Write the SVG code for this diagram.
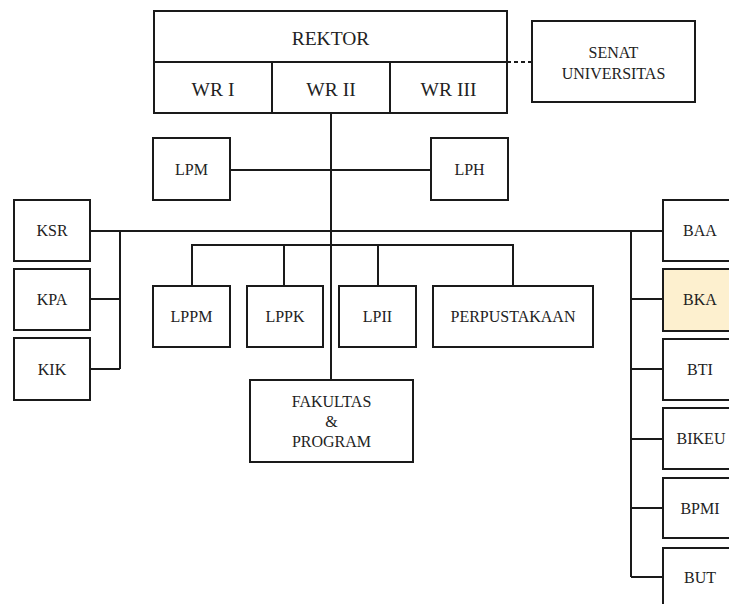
<svg xmlns="http://www.w3.org/2000/svg" width="729" height="604" viewBox="0 0 729 604" font-family="Liberation Serif, Times New Roman, serif">
<style>
.b{fill:#fff;stroke:#1a1a1a;stroke-width:2}
.y{fill:#fdf0cf}
text{font-family:"Liberation Serif",serif}
.t{font-size:16px;fill:#222;text-anchor:middle}
.h{font-size:19.5px}
.c{fill:none;stroke:#1a1a1a;stroke-width:2}
.d{fill:none;stroke:#1a1a1a;stroke-width:2;stroke-dasharray:4 3}
</style>
<rect width="729" height="604" fill="#fff"/>
<g id="connectors">
<line class="c" x1="331" y1="113" x2="331" y2="380"/>
<line class="c" x1="230" y1="170" x2="431" y2="170"/>
<line class="c" x1="90" y1="231" x2="663" y2="231"/>
<path class="c" d="M120 231V369M90 299H120M90 369H120"/>
<path class="c" d="M631 231V577M631 299H663M631 369H663M631 439H663M631 508H663M631 577H663"/>
<path class="c" d="M192 286V245H513V286M284 245V286M378 245V286"/>
<line class="d" x1="507" y1="62" x2="532" y2="62"/>
</g>
<g id="rektor">
<rect class="b" x="154" y="11" width="353" height="102"/>
<line class="c" x1="154" y1="62" x2="507" y2="62"/>
<text class="t h" x="330.5" y="45" font-family="Liberation Serif, serif">REKTOR</text>
</g>
<g id="wr1">
<rect class="b" x="154" y="62" width="118" height="51"/>
<text class="t h" x="213" y="96">WR I</text>
</g>
<g id="wr2">
<rect class="b" x="272" y="62" width="118" height="51"/>
<text class="t h" x="331" y="96">WR II</text>
</g>
<g id="wr3">
<rect class="b" x="390" y="62" width="117" height="51"/>
<text class="t h" x="448.5" y="96">WR III</text>
</g>
<g id="senat">
<rect class="b" x="532" y="21" width="163" height="81"/>
<text class="t" x="613.5" y="58">SENAT</text>
<text class="t" x="613.5" y="79">UNIVERSITAS</text>
</g>
<g id="lpm">
<rect class="b" x="153" y="138" width="77" height="62"/>
<text class="t" x="191.5" y="175">LPM</text>
</g>
<g id="lph">
<rect class="b" x="431" y="138" width="77" height="62"/>
<text class="t" x="469.5" y="175">LPH</text>
</g>
<g id="ksr">
<rect class="b" x="14" y="200" width="76" height="61"/>
<text class="t" x="52" y="236">KSR</text>
</g>
<g id="kpa">
<rect class="b" x="14" y="269" width="76" height="61"/>
<text class="t" x="52" y="305">KPA</text>
</g>
<g id="kik">
<rect class="b" x="14" y="338" width="76" height="62"/>
<text class="t" x="52" y="375">KIK</text>
</g>
<g id="lppm">
<rect class="b" x="153" y="286" width="77" height="61"/>
<text class="t" x="191.5" y="322">LPPM</text>
</g>
<g id="lppk">
<rect class="b" x="247" y="286" width="76" height="61"/>
<text class="t" x="285" y="322">LPPK</text>
</g>
<g id="lpii">
<rect class="b" x="339" y="286" width="77" height="61"/>
<text class="t" x="377.5" y="322">LPII</text>
</g>
<g id="perpustakaan">
<rect class="b" x="433" y="286" width="160" height="61"/>
<text class="t" x="513" y="322">PERPUSTAKAAN</text>
</g>
<g id="fakultas">
<rect class="b" x="250" y="380" width="163" height="82"/>
<text class="t" x="331.5" y="407">FAKULTAS</text>
<text class="t" x="331.5" y="427">&amp;</text>
<text class="t" x="331.5" y="447">PROGRAM</text>
</g>
<g id="baa">
<rect class="b" x="663" y="200" width="80" height="61"/>
<text class="t" x="700" y="236">BAA</text>
</g>
<g id="bka">
<rect class="b y" x="663" y="269" width="80" height="62"/>
<text class="t" x="700" y="305">BKA</text>
</g>
<g id="bti">
<rect class="b" x="663" y="339" width="80" height="61"/>
<text class="t" x="700" y="375">BTI</text>
</g>
<g id="bikeu">
<rect class="b" x="663" y="408" width="80" height="61"/>
<text class="t" x="701" y="444">BIKEU</text>
</g>
<g id="bpmi">
<rect class="b" x="663" y="478" width="80" height="60"/>
<text class="t" x="700" y="514">BPMI</text>
</g>
<g id="but">
<rect class="b" x="663" y="548" width="80" height="62"/>
<text class="t" x="700" y="583">BUT</text>
</g>
</svg>
